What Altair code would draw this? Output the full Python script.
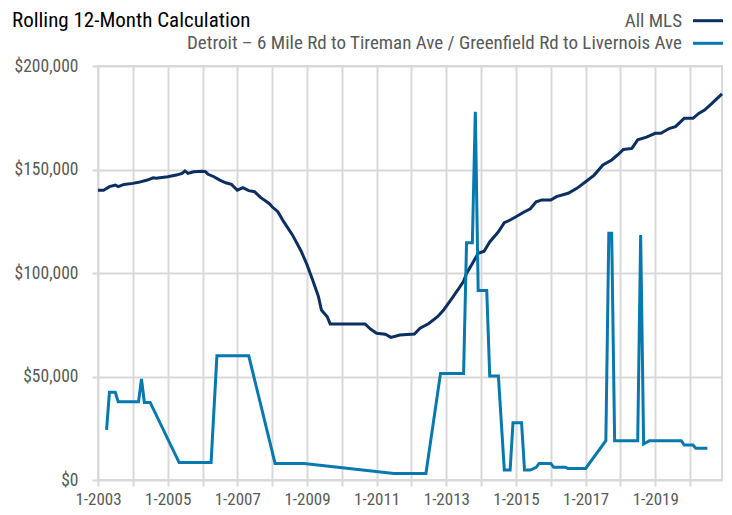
import altair as alt
import pandas as pd

TITLE = "Rolling 12-Month Calculation"
SERIES = ["All MLS", "Detroit – 6 Mile Rd to Tireman Ave / Greenfield Rd to Livernois Ave"]
COLORS = ["#0b2f61", "#0879ae"]

mls_months = ["2003-01", "2003-03", "2003-05", "2003-07", "2003-08", "2003-10", "2004-01", "2004-03",
              "2004-06", "2004-08", "2004-09", "2005-01", "2005-04", "2005-06", "2005-07", "2005-08",
              "2005-10", "2006-01", "2006-02", "2006-03", "2006-05", "2006-07", "2006-09", "2006-11",
              "2007-01", "2007-03", "2007-05", "2007-07", "2007-09", "2007-12", "2008-01", "2008-03",
              "2008-05", "2008-08", "2008-11", "2009-01", "2009-03", "2009-05", "2009-06", "2009-08",
              "2009-09", "2010-09", "2010-11", "2011-01", "2011-04", "2011-06", "2011-09", "2012-02",
              "2012-04", "2012-07", "2012-10", "2012-12", "2013-03", "2013-05", "2013-07", "2013-08",
              "2013-10", "2013-12", "2014-02", "2014-04", "2014-07", "2014-09", "2014-11", "2015-01",
              "2015-04", "2015-06", "2015-08", "2015-10", "2016-01", "2016-03", "2016-07", "2016-10",
              "2017-01", "2017-04", "2017-07", "2017-10", "2017-12", "2018-02", "2018-05", "2018-07",
              "2018-10", "2019-01", "2019-03", "2019-06", "2019-08", "2019-11", "2020-02", "2020-04",
              "2020-06", "2020-08", "2020-10", "2020-12"]
mls_values = [140000, 140000, 141700, 142500, 141700, 142800, 143300, 143800,
              144900, 146000, 145800, 146500, 147300, 148100, 149300, 148100,
              148900, 149200, 149000, 147700, 146500, 144900, 143600, 142800,
              140000, 141200, 139800, 139300, 136500, 133600, 132000, 129600,
              124800, 118400, 110500, 104000, 96600, 88600, 82100, 78900,
              75400, 75400, 72800, 70900, 70400, 68900, 70000, 70500,
              73300, 75600, 78900, 82000, 87800, 91800, 96000, 99800,
              104600, 109500, 110500, 115000, 119900, 124300, 125600, 127200,
              129600, 131000, 134400, 135300, 135300, 136900, 138500, 140900,
              144100, 147300, 152200, 154600, 157000, 159700, 160200, 164300,
              165600, 167500, 167500, 169900, 170700, 174700, 174700, 177100,
              178700, 181200, 183900, 186500]

det_months = ["2003-04", "2003-05", "2003-07", "2003-08", "2004-03", "2004-04", "2004-05", "2004-07",
              "2005-05", "2006-04", "2006-06", "2007-05", "2008-02", "2008-12", "2011-07", "2012-06",
              "2012-11", "2013-07", "2013-08", "2013-10", "2013-11", "2013-12", "2014-03", "2014-04",
              "2014-07", "2014-09", "2014-11", "2014-12", "2015-03", "2015-04", "2015-06", "2015-08",
              "2015-09", "2016-01", "2016-02", "2016-06", "2016-07", "2017-01", "2017-08", "2017-09",
              "2017-10", "2017-11", "2018-07", "2018-08", "2018-09", "2018-11", "2019-10", "2019-11",
              "2020-02", "2020-03", "2020-07"]
det_values = [24200, 42400, 42400, 37800, 37800, 48800, 37500, 37500,
              8400, 8400, 60000, 60000, 8000, 8000, 3200, 3200,
              51500, 51500, 114600, 114600, 177900, 91500, 91500, 50200,
              50200, 4800, 4800, 27700, 27700, 4800, 4800, 6100,
              8000, 8000, 6100, 6100, 5600, 5600, 19000, 119200,
              119200, 19000, 19000, 118400, 17400, 19000, 19000, 16900,
              16900, 15300, 15300]

Y_TICKS = [0, 50000, 100000, 150000, 200000]
X_YEARS = list(range(2003, 2021))

FONT = "'Liberation Sans Narrow', 'Roboto Condensed', 'DejaVu Sans Condensed', Roboto, sans-serif"
GRID = "#d9d9d9"
TEXT = "#595959"

df_mls = pd.DataFrame({"date": pd.to_datetime(mls_months), "value": mls_values, "series": SERIES[0]})
df_det = pd.DataFrame({"date": pd.to_datetime(det_months), "value": det_values, "series": SERIES[1]})
df_legend = pd.DataFrame({"series": SERIES})
df_title = pd.DataFrame({"t": [TITLE]})

x_enc = alt.X(
    "date:T",
    scale=alt.Scale(domain=[alt.DateTime(year=2003, month=1, date=1),
                            alt.DateTime(year=2020, month=12, date=1)]),
    axis=alt.Axis(
        values=[alt.DateTime(year=y, month=1, date=1) for y in X_YEARS],
        labelExpr="year(datum.value) % 2 == 1 ? timeFormat(datum.value, '%-m-%Y') : ''",
        grid=True, gridColor=GRID, gridWidth=2,
        ticks=True, tickColor=GRID, tickWidth=2, tickSize=6,
        domain=False, labelFlush=False, labelOverlap=False,
        labelFont=FONT, labelFontSize=17, labelColor=TEXT, labelPadding=5,
        title=None,
    ),
)
y_enc = alt.Y(
    "value:Q",
    scale=alt.Scale(domain=[0, 200000], nice=False),
    axis=alt.Axis(
        values=Y_TICKS, format="$,.0f",
        grid=True, gridColor=GRID, gridWidth=2,
        ticks=True, tickColor=GRID, tickWidth=2, tickSize=6,
        domain=False, labelFont=FONT, labelFontSize=17.5, labelColor=TEXT, labelPadding=14,
        title=None,
    ),
)
color_enc = alt.Color("series:N", scale=alt.Scale(domain=SERIES, range=COLORS), legend=None)

line_mls = alt.Chart(df_mls).mark_line(strokeWidth=3).encode(x=x_enc, y=y_enc, color=color_enc)
line_det = alt.Chart(df_det).mark_line(strokeWidth=3).encode(x=x_enc, y=y_enc, color=color_enc)
lines = alt.layer(line_mls, line_det)

# legend: label on the left, line swatch on the right
leg_y = alt.Y("series:N", scale=alt.Scale(type="point", domain=SERIES, range=[-45.3, -22.7], padding=0),
              axis=None)
leg_swatch = alt.Chart(df_legend).mark_rule(strokeWidth=3).encode(
    x=alt.value(595), x2=alt.value(625), y=leg_y, color=color_enc)
leg_text = alt.Chart(df_legend).mark_text(
    align="right", baseline="middle", font=FONT, fontSize=19, color=TEXT
).encode(x=alt.value(584), y=leg_y, text="series:N")
title = alt.Chart(df_title).mark_text(
    align="left", baseline="alphabetic", font=FONT, fontSize=21, color="#000000"
).encode(text="t:N", x=alt.value(-86), y=alt.value(-39.5))

chart = (
    alt.layer(lines, leg_swatch, leg_text, title)
    .resolve_scale(y="independent")
    .properties(
        width=624, height=414,
        autosize=alt.AutoSizeParams(type="none"),
        padding={"left": 90, "top": 58, "right": 2, "bottom": 27},
    )
    .configure_view(stroke=GRID, strokeWidth=2)
)

chart.save("out.html", embed_options={"renderer": "svg", "actions": False})
